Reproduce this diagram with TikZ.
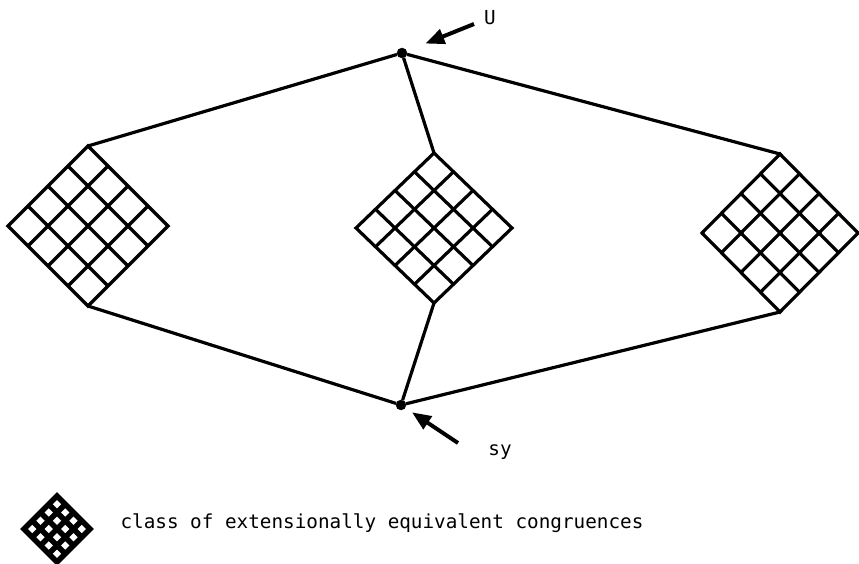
\documentclass[tikz,border=0pt]{standalone}
\usepackage{fontspec}
\setmonofont{DejaVu Sans Mono}
\usetikzlibrary{calc, shapes.geometric, arrows.meta}

\begin{document}
\begin{tikzpicture}[x=1pt, y=-1pt,
			eqclass/.style={draw, diamond, line width=3.2pt, inner sep=0pt, outer sep=0pt},
			point/.style={draw, fill, circle, inner sep=0pt, minimum size=10pt},
			link/.style={line width=3.2pt},
			pointer/.style={line width=4pt, -{Triangle[length=19pt, width=15pt]}},
			lbl/.style={font=\ttfamily\fontsize{19.3}{22}\selectfont}
			]
			\useasboundingbox (0,0) rectangle (859,564);
			\node [point](U) at (402,53) {};
			\node [point](sy) at (401,405) {};
			\node [eqclass, minimum width=160pt, minimum height=160pt](L) at (88,226) {};
			\node [eqclass, minimum width=156pt, minimum height=150pt](C) at (434,228) {};
			\node [eqclass, minimum width=156pt, minimum height=158pt](R) at (780,233) {};
			% the little one for the legend
			\node [eqclass, line width=5.5pt, minimum width=66pt, minimum height=66pt](K) at (57,529) {};
			\foreach \d in {L,C,R}{
				\foreach \i in {1,2,3}{
					\draw[link] ($(\d.west)!\i/4!(\d.north)$) -- ($(\d.south)!\i/4!(\d.east)$);
					\draw[link] ($(\d.west)!\i/4!(\d.south)$) -- ($(\d.north)!\i/4!(\d.east)$);
				}}
			\foreach \i in {1,2,3}{
				\draw[line width=5.5pt] ($(K.west)!\i/4!(K.north)$) -- ($(K.south)!\i/4!(K.east)$);
				\draw[line width=5.5pt] ($(K.west)!\i/4!(K.south)$) -- ($(K.north)!\i/4!(K.east)$);
			}
			\draw[link] (U) -- (L.north);
			\draw[link] (U) -- (C.north);
			\draw[link] (U) -- (R.north);
			\draw[link] (sy) -- (L.south);
			\draw[link] (sy) -- (C.south);
			\draw[link] (sy) -- (R.south);
			\coordinate (utail) at (474,24);
			\coordinate (sytail) at (458,443);
			\draw[pointer, shorten >=20pt] (utail) -- (U);
			\draw[pointer, shorten >=8pt] (sytail) -- (sy);
			\node [lbl](ulabel) at (490,18) {U};
			\node [lbl](sylabel) at (500,452) {sy};
			\node [lbl, anchor=base west](legend) at (117,528) {class of extensionally equivalent congruences};
		\end{tikzpicture}
\end{document}
